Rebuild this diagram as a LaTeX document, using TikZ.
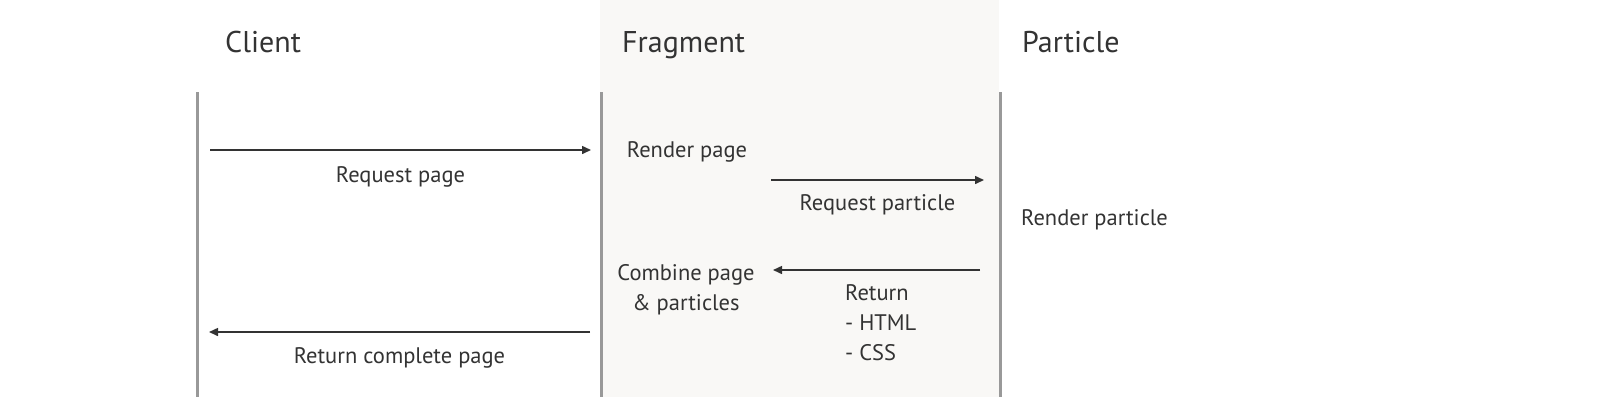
\documentclass[tikz,border=0pt]{standalone}
\usepackage{fontspec}
\setmainfont{PT Sans}
\usetikzlibrary{positioning,arrows.meta}
\definecolor{bandgray}{HTML}{F9F8F6}
\definecolor{linegray}{HTML}{999999}
\definecolor{inkgray}{HTML}{333333}

\begin{document}
\begin{tikzpicture}[x=1pt,y=-1pt,
titlenode/.style={anchor=base west, inner sep=0pt, text=inkgray, font=\fontsize{30}{36}\selectfont},
msgnode/.style={inner sep=0pt, text=inkgray, font=\fontsize{22.5}{30}\selectfont},
lifeline/.style={draw=linegray, line width=3pt},
msg/.style={draw=inkgray, line width=1.5pt, -{Triangle[length=9pt,width=8pt]}},
]
\useasboundingbox (0,0) rectangle (1600,400);
\fill[bandgray] (600,0) rectangle (999,397);
%% Titles
\node[titlenode] (client) at (225,52) {Client};
\node[titlenode] (fragment) at (622,52) {Fragment};
\node[titlenode] (particle) at (1022,52) {Particle};
%% Lifelines
\coordinate (clienttop) at (197,92);
\coordinate (clientbot) at (197,397);
\coordinate (fragtop) at (601,92);
\coordinate (fragbot) at (601,397);
\coordinate (parttop) at (1000,92);
\coordinate (partbot) at (1000,397);
\draw[lifeline] (clienttop) -- (clientbot);
\draw[lifeline] (fragtop) -- (fragbot);
\draw[lifeline] (parttop) -- (partbot);
%% Steps
\node[msgnode, anchor=base] (renderpage) at (687,157) {Render page};
\node[msgnode, anchor=base west] (renderpart) at (1021,225) {Render particle};
\node[msgnode, anchor=base, align=center] (combine) at (686,310) {Combine page\\\& particles};
%% Messages
\coordinate (reqpagea) at (210,150);
\coordinate (reqpageb) at (591,150);
\coordinate (reqparta) at (771,180);
\coordinate (reqpartb) at (984,180);
\coordinate (retparta) at (980,270);
\coordinate (retpartb) at (773,270);
\coordinate (retpagea) at (590,332);
\coordinate (retpageb) at (209,332);
\draw[msg] (reqpagea) -- node[msgnode, anchor=base, yshift=-32pt] (reqpagelbl) {Request page} (reqpageb);
\draw[msg] (reqparta) -- node[msgnode, anchor=base, yshift=-30pt] (reqpartlbl) {Request particle} (reqpartb);
\draw[msg] (retparta) -- (retpartb);
\draw[msg] (retpagea) -- node[msgnode, anchor=base, yshift=-31pt] (retpagelbl) {Return complete page} (retpageb);
\node[msgnode, anchor=base west, align=left] (retpartlbl) at (845,360) {Return\\- HTML\\- CSS};
\end{tikzpicture}
\end{document}
